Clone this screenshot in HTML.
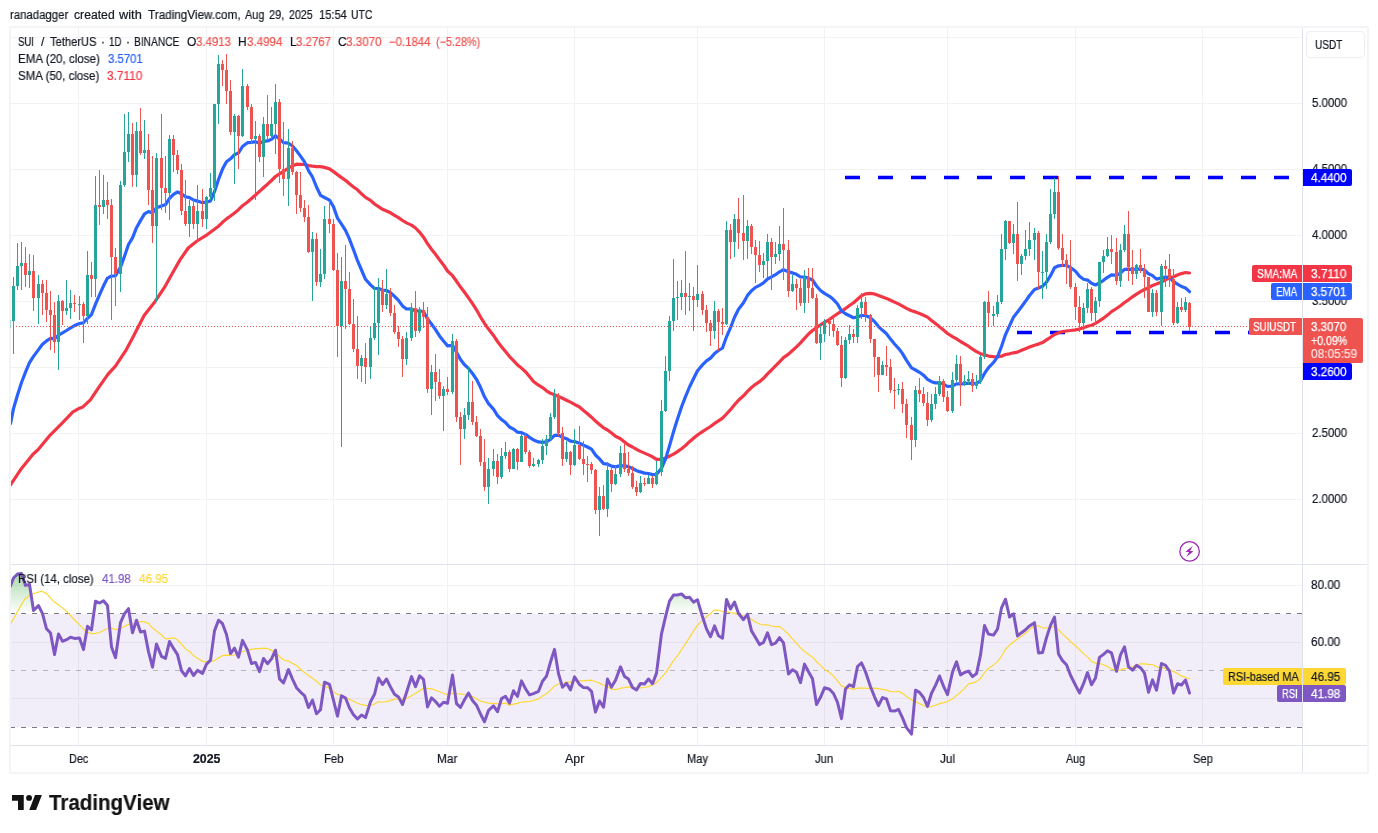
<!DOCTYPE html><html><head><meta charset="utf-8"><title>SUIUSDT chart</title><style>
html,body{margin:0;padding:0;background:#fff}
body{width:1378px;height:833px;position:relative;overflow:hidden;font-family:"Liberation Sans",sans-serif}
.t{position:absolute;white-space:pre;line-height:1;font-family:"Liberation Sans",sans-serif;will-change:transform;-webkit-text-stroke-width:0.2px}

</style></head><body>
<svg width="1378" height="833" viewBox="0 0 1378 833" style="position:absolute;left:0;top:0" shape-rendering="auto">
<path d="M78.5 28V564M78.5 565V745M206.5 28V564M206.5 565V745M333.5 28V564M333.5 565V745M447.5 28V564M447.5 565V745M574.5 28V564M574.5 565V745M697.5 28V564M697.5 565V745M824.5 28V564M824.5 565V745M947.5 28V564M947.5 565V745M1075.5 28V564M1075.5 565V745M1202.5 28V564M1202.5 565V745M11 37.5H1302M11 103.5H1302M11 169.5H1302M11 235.5H1302M11 301.5H1302M11 367.5H1302M11 433.5H1302M11 499.5H1302M11 585.5H1302M11 642.5H1302M11 698.5H1302" stroke="#000" stroke-opacity="0.05" stroke-width="1" fill="none" shape-rendering="crispEdges"/>
<rect x="11" y="614" width="1291" height="113" fill="#7e57c2" fill-opacity="0.1"/>
<path d="M10 613.5H1302M10 727.5H1302" stroke="#787b86" stroke-width="1" stroke-dasharray="5 6" fill="none" shape-rendering="crispEdges"/>
<path d="M10 670.5H1302" stroke="#787b86" stroke-opacity="0.5" stroke-width="1" stroke-dasharray="5 6" fill="none" shape-rendering="crispEdges"/>
<defs><linearGradient id="gob" gradientUnits="userSpaceOnUse" x1="0" y1="528.2" x2="0" y2="613.5"><stop offset="0" stop-color="#4caf50" stop-opacity="1"/><stop offset="1" stop-color="#4caf50" stop-opacity="0"/></linearGradient><linearGradient id="gos" gradientUnits="userSpaceOnUse" x1="0" y1="727.5" x2="0" y2="812.8"><stop offset="0" stop-color="#ff5252" stop-opacity="0"/><stop offset="1" stop-color="#ff5252" stop-opacity="1"/></linearGradient><clipPath id="cob"><rect x="11" y="565" width="1291" height="48.5"/></clipPath><clipPath id="cos"><rect x="11" y="727.5" width="1291" height="18"/></clipPath></defs>
<polygon clip-path="url(#cob)" fill="url(#gob)" points="10.5,613.5 10.5,585.9 13.5,578.0 17.5,574.1 21.5,573.5 25.5,585.4 29.5,584.4 33.5,610.5 38.5,605.6 42.5,613.7 46.5,628.8 50.5,633.1 54.5,654.6 58.5,634.0 62.5,641.3 66.5,639.7 70.5,637.3 74.5,638.4 79.5,637.9 83.5,649.6 87.5,626.3 91.5,629.8 95.5,601.2 99.5,603.0 103.5,600.7 107.5,605.5 111.5,646.9 115.5,657.7 120.5,622.7 124.5,613.6 128.5,608.7 132.5,632.8 136.5,620.2 140.5,632.0 144.5,631.1 148.5,651.6 152.5,667.2 156.5,644.1 161.5,656.4 165.5,658.4 169.5,641.5 173.5,648.4 177.5,654.6 181.5,670.7 185.5,675.8 189.5,668.6 193.5,675.5 197.5,670.3 202.5,673.5 206.5,664.1 210.5,660.1 214.5,630.9 218.5,620.2 222.5,623.7 226.5,634.5 230.5,653.5 234.5,648.1 238.5,657.2 242.5,640.4 247.5,650.1 251.5,663.5 255.5,662.4 259.5,671.6 263.5,658.5 267.5,663.7 271.5,658.9 275.5,650.2 279.5,678.9 283.5,682.9 288.5,669.6 292.5,679.2 296.5,687.7 300.5,692.1 304.5,695.6 308.5,707.5 312.5,700.1 316.5,713.8 320.5,709.7 324.5,682.2 329.5,684.3 333.5,700.4 337.5,716.2 341.5,695.8 345.5,698.0 349.5,708.0 353.5,714.8 357.5,719.0 361.5,715.0 365.5,717.6 370.5,701.8 374.5,694.3 378.5,678.0 382.5,684.5 386.5,679.0 390.5,687.0 394.5,694.2 398.5,696.9 402.5,704.5 406.5,692.6 411.5,676.6 415.5,686.7 419.5,675.9 423.5,679.4 427.5,707.0 431.5,697.8 435.5,701.5 439.5,706.2 443.5,702.3 447.5,703.3 452.5,674.9 456.5,703.6 460.5,707.4 464.5,699.7 468.5,693.0 472.5,700.5 476.5,705.2 480.5,714.0 484.5,721.8 488.5,710.4 493.5,705.9 497.5,711.7 501.5,698.6 505.5,696.3 509.5,703.1 513.5,690.8 517.5,696.4 521.5,680.9 525.5,688.7 529.5,694.9 533.5,693.6 538.5,691.3 542.5,681.2 546.5,676.1 550.5,662.0 554.5,649.4 558.5,673.7 562.5,687.3 566.5,683.3 570.5,689.9 574.5,676.9 579.5,684.5 583.5,687.6 587.5,687.7 591.5,691.3 595.5,712.1 599.5,701.0 603.5,707.2 607.5,679.1 611.5,687.1 615.5,680.2 620.5,666.9 624.5,676.4 628.5,679.1 632.5,687.5 636.5,690.0 640.5,683.4 644.5,684.0 648.5,679.0 652.5,683.7 656.5,673.1 661.5,633.8 665.5,616.8 669.5,601.1 673.5,595.1 677.5,595.0 681.5,593.9 685.5,597.8 689.5,597.2 693.5,602.1 697.5,599.8 702.5,616.8 706.5,628.9 710.5,636.7 714.5,625.9 718.5,635.8 722.5,638.2 726.5,599.4 730.5,609.0 734.5,602.0 738.5,613.5 743.5,619.7 747.5,614.2 751.5,630.9 755.5,637.5 759.5,644.6 763.5,642.4 767.5,632.8 771.5,644.7 775.5,643.1 779.5,637.7 783.5,642.9 788.5,674.0 792.5,669.8 796.5,672.2 800.5,682.7 804.5,664.1 808.5,671.7 812.5,678.7 816.5,704.5 820.5,697.3 824.5,687.8 829.5,689.3 833.5,693.5 837.5,702.3 841.5,718.6 845.5,689.0 849.5,684.8 853.5,686.6 857.5,666.5 861.5,662.9 865.5,671.8 870.5,686.8 874.5,696.8 878.5,705.6 882.5,697.6 886.5,699.0 890.5,710.8 894.5,711.1 898.5,709.4 902.5,717.9 906.5,727.7 911.5,734.1 915.5,690.2 919.5,692.3 923.5,697.5 927.5,706.5 931.5,693.2 935.5,685.4 939.5,676.0 943.5,686.1 947.5,694.6 952.5,672.1 956.5,661.8 960.5,674.9 964.5,672.5 968.5,671.1 972.5,676.6 976.5,673.6 980.5,655.1 984.5,625.6 988.5,634.1 993.5,635.1 997.5,629.2 1001.5,607.8 1005.5,599.2 1009.5,617.0 1013.5,613.8 1017.5,635.9 1021.5,632.7 1025.5,629.8 1029.5,625.9 1034.5,622.7 1038.5,652.9 1042.5,652.5 1046.5,637.6 1050.5,625.4 1054.5,617.1 1058.5,654.0 1062.5,660.6 1066.5,664.8 1070.5,675.3 1075.5,685.2 1079.5,692.9 1083.5,683.7 1087.5,672.6 1091.5,684.8 1095.5,677.9 1099.5,657.4 1103.5,654.4 1107.5,650.8 1111.5,652.8 1116.5,671.3 1120.5,654.8 1124.5,646.8 1128.5,666.8 1132.5,670.2 1136.5,665.4 1140.5,667.7 1144.5,673.1 1148.5,692.2 1152.5,679.9 1156.5,690.2 1161.5,663.5 1165.5,665.3 1169.5,671.0 1173.5,693.1 1177.5,683.8 1181.5,685.0 1185.5,680.0 1189.5,693.1 1189.5,613.5"/>
<polygon clip-path="url(#cos)" fill="url(#gos)" points="10.5,727.5 10.5,585.9 13.5,578.0 17.5,574.1 21.5,573.5 25.5,585.4 29.5,584.4 33.5,610.5 38.5,605.6 42.5,613.7 46.5,628.8 50.5,633.1 54.5,654.6 58.5,634.0 62.5,641.3 66.5,639.7 70.5,637.3 74.5,638.4 79.5,637.9 83.5,649.6 87.5,626.3 91.5,629.8 95.5,601.2 99.5,603.0 103.5,600.7 107.5,605.5 111.5,646.9 115.5,657.7 120.5,622.7 124.5,613.6 128.5,608.7 132.5,632.8 136.5,620.2 140.5,632.0 144.5,631.1 148.5,651.6 152.5,667.2 156.5,644.1 161.5,656.4 165.5,658.4 169.5,641.5 173.5,648.4 177.5,654.6 181.5,670.7 185.5,675.8 189.5,668.6 193.5,675.5 197.5,670.3 202.5,673.5 206.5,664.1 210.5,660.1 214.5,630.9 218.5,620.2 222.5,623.7 226.5,634.5 230.5,653.5 234.5,648.1 238.5,657.2 242.5,640.4 247.5,650.1 251.5,663.5 255.5,662.4 259.5,671.6 263.5,658.5 267.5,663.7 271.5,658.9 275.5,650.2 279.5,678.9 283.5,682.9 288.5,669.6 292.5,679.2 296.5,687.7 300.5,692.1 304.5,695.6 308.5,707.5 312.5,700.1 316.5,713.8 320.5,709.7 324.5,682.2 329.5,684.3 333.5,700.4 337.5,716.2 341.5,695.8 345.5,698.0 349.5,708.0 353.5,714.8 357.5,719.0 361.5,715.0 365.5,717.6 370.5,701.8 374.5,694.3 378.5,678.0 382.5,684.5 386.5,679.0 390.5,687.0 394.5,694.2 398.5,696.9 402.5,704.5 406.5,692.6 411.5,676.6 415.5,686.7 419.5,675.9 423.5,679.4 427.5,707.0 431.5,697.8 435.5,701.5 439.5,706.2 443.5,702.3 447.5,703.3 452.5,674.9 456.5,703.6 460.5,707.4 464.5,699.7 468.5,693.0 472.5,700.5 476.5,705.2 480.5,714.0 484.5,721.8 488.5,710.4 493.5,705.9 497.5,711.7 501.5,698.6 505.5,696.3 509.5,703.1 513.5,690.8 517.5,696.4 521.5,680.9 525.5,688.7 529.5,694.9 533.5,693.6 538.5,691.3 542.5,681.2 546.5,676.1 550.5,662.0 554.5,649.4 558.5,673.7 562.5,687.3 566.5,683.3 570.5,689.9 574.5,676.9 579.5,684.5 583.5,687.6 587.5,687.7 591.5,691.3 595.5,712.1 599.5,701.0 603.5,707.2 607.5,679.1 611.5,687.1 615.5,680.2 620.5,666.9 624.5,676.4 628.5,679.1 632.5,687.5 636.5,690.0 640.5,683.4 644.5,684.0 648.5,679.0 652.5,683.7 656.5,673.1 661.5,633.8 665.5,616.8 669.5,601.1 673.5,595.1 677.5,595.0 681.5,593.9 685.5,597.8 689.5,597.2 693.5,602.1 697.5,599.8 702.5,616.8 706.5,628.9 710.5,636.7 714.5,625.9 718.5,635.8 722.5,638.2 726.5,599.4 730.5,609.0 734.5,602.0 738.5,613.5 743.5,619.7 747.5,614.2 751.5,630.9 755.5,637.5 759.5,644.6 763.5,642.4 767.5,632.8 771.5,644.7 775.5,643.1 779.5,637.7 783.5,642.9 788.5,674.0 792.5,669.8 796.5,672.2 800.5,682.7 804.5,664.1 808.5,671.7 812.5,678.7 816.5,704.5 820.5,697.3 824.5,687.8 829.5,689.3 833.5,693.5 837.5,702.3 841.5,718.6 845.5,689.0 849.5,684.8 853.5,686.6 857.5,666.5 861.5,662.9 865.5,671.8 870.5,686.8 874.5,696.8 878.5,705.6 882.5,697.6 886.5,699.0 890.5,710.8 894.5,711.1 898.5,709.4 902.5,717.9 906.5,727.7 911.5,734.1 915.5,690.2 919.5,692.3 923.5,697.5 927.5,706.5 931.5,693.2 935.5,685.4 939.5,676.0 943.5,686.1 947.5,694.6 952.5,672.1 956.5,661.8 960.5,674.9 964.5,672.5 968.5,671.1 972.5,676.6 976.5,673.6 980.5,655.1 984.5,625.6 988.5,634.1 993.5,635.1 997.5,629.2 1001.5,607.8 1005.5,599.2 1009.5,617.0 1013.5,613.8 1017.5,635.9 1021.5,632.7 1025.5,629.8 1029.5,625.9 1034.5,622.7 1038.5,652.9 1042.5,652.5 1046.5,637.6 1050.5,625.4 1054.5,617.1 1058.5,654.0 1062.5,660.6 1066.5,664.8 1070.5,675.3 1075.5,685.2 1079.5,692.9 1083.5,683.7 1087.5,672.6 1091.5,684.8 1095.5,677.9 1099.5,657.4 1103.5,654.4 1107.5,650.8 1111.5,652.8 1116.5,671.3 1120.5,654.8 1124.5,646.8 1128.5,666.8 1132.5,670.2 1136.5,665.4 1140.5,667.7 1144.5,673.1 1148.5,692.2 1152.5,679.9 1156.5,690.2 1161.5,663.5 1165.5,665.3 1169.5,671.0 1173.5,693.1 1177.5,683.8 1181.5,685.0 1185.5,680.0 1189.5,693.1 1189.5,727.5"/>
<path d="M845 177.5H1302" stroke="#0000ff" stroke-width="3.6" stroke-dasharray="15 18" fill="none"/>
<path d="M1017 332.5H1302" stroke="#0000ff" stroke-width="3.6" stroke-dasharray="15 18" fill="none"/>
<g clip-path="url(#cpm)">
<polyline points="10.5,484.8 20.5,469.8 33.0,454.3 38.0,449.8 50.4,434.8 62.9,422.3 72.9,411.9 78.7,408.6 82.9,406.9 90.4,399.9 97.9,388.6 107.9,374.4 115.4,366.2 125.4,351.2 132.8,337.5 144.1,315.5 155.3,301.2 165.3,286.1 172.8,272.4 180.0,259.9 188.2,248.0 197.0,241.0 207.0,234.8 218.5,226.2 222.5,222.3 226.5,218.9 230.5,216.0 234.5,212.9 238.5,209.7 242.5,205.7 247.5,202.0 251.5,198.5 255.5,195.0 259.5,191.3 263.5,187.7 267.5,184.2 271.5,180.5 275.5,176.5 279.5,173.8 283.5,171.3 288.5,168.0 292.5,165.9 296.5,164.2 300.5,164.3 304.5,164.5 308.5,165.6 312.5,166.2 316.5,166.7 320.5,166.7 324.5,167.4 329.5,168.9 333.5,171.6 337.5,174.6 341.5,177.6 345.5,180.3 349.5,183.8 353.5,187.0 357.5,189.8 361.5,193.8 365.5,197.4 370.5,200.3 374.5,204.0 378.5,206.6 382.5,209.3 386.5,211.0 390.5,212.8 394.5,215.3 398.5,217.6 402.5,220.5 406.5,222.9 411.5,225.1 415.5,228.0 419.5,232.1 423.5,237.2 427.5,243.6 431.5,249.2 435.5,254.2 439.5,259.8 443.5,264.9 447.5,271.0 452.5,275.7 456.5,281.3 460.5,287.1 464.5,292.3 468.5,297.8 472.5,303.6 476.5,309.8 480.5,317.0 484.5,323.4 488.5,329.1 493.5,335.4 497.5,341.5 501.5,346.7 505.5,351.6 509.5,356.6 513.5,360.6 517.5,365.0 521.5,368.1 525.5,371.7 529.5,376.6 533.5,381.4 538.5,385.2 542.5,387.6 546.5,390.8 550.5,393.3 554.5,394.8 558.5,396.4 562.5,398.3 566.5,400.2 570.5,402.1 574.5,404.3 579.5,407.0 583.5,410.5 587.5,413.7 591.5,417.2 595.5,421.1 599.5,424.4 603.5,427.8 607.5,430.0 611.5,433.0 615.5,436.3 620.5,438.7 624.5,441.9 628.5,445.0 632.5,447.0 636.5,449.4 640.5,451.4 644.5,453.1 648.5,454.9 652.5,456.8 656.5,459.4 661.5,459.3 665.5,458.1 669.5,456.2 673.5,454.1 677.5,451.6 681.5,448.8 685.5,445.5 689.5,441.7 693.5,438.3 697.5,435.0 702.5,431.6 706.5,429.0 710.5,426.5 714.5,423.4 718.5,420.8 722.5,418.1 726.5,414.0 730.5,409.7 734.5,404.8 738.5,400.2 743.5,395.8 747.5,391.4 751.5,387.5 755.5,384.3 759.5,381.7 763.5,378.3 767.5,373.9 771.5,370.0 775.5,365.8 779.5,361.8 783.5,357.6 788.5,354.1 792.5,350.5 796.5,346.9 800.5,342.8 804.5,338.4 808.5,334.0 812.5,330.5 816.5,327.7 820.5,324.9 824.5,322.3 829.5,319.4 833.5,316.5 837.5,313.7 841.5,311.4 845.5,308.5 849.5,305.5 853.5,302.7 857.5,299.2 861.5,295.8 865.5,293.9 870.5,293.3 874.5,294.0 878.5,295.5 882.5,296.9 886.5,298.4 890.5,300.2 894.5,302.1 898.5,303.9 902.5,306.1 906.5,308.4 911.5,310.7 915.5,311.9 919.5,313.5 923.5,315.2 927.5,317.1 931.5,320.5 935.5,323.6 939.5,326.8 943.5,330.1 947.5,333.5 952.5,336.6 956.5,338.9 960.5,341.5 964.5,343.8 968.5,346.2 972.5,349.1 976.5,351.6 980.5,353.7 984.5,354.8 988.5,356.1 993.5,356.6 997.5,356.9 1001.5,356.2 1005.5,354.5 1009.5,353.8 1013.5,352.8 1017.5,352.1 1021.5,350.3 1025.5,348.7 1029.5,347.0 1034.5,345.2 1038.5,344.1 1042.5,342.6 1046.5,339.9 1050.5,337.3 1054.5,334.5 1058.5,332.7 1062.5,331.7 1066.5,331.0 1070.5,330.5 1075.5,329.8 1079.5,329.1 1083.5,327.8 1087.5,326.3 1091.5,325.2 1095.5,323.4 1099.5,320.9 1103.5,318.2 1107.5,315.1 1111.5,311.6 1116.5,308.5 1120.5,305.7 1124.5,302.5 1128.5,299.8 1132.5,296.8 1136.5,294.1 1140.5,291.6 1144.5,289.5 1148.5,287.8 1152.5,285.4 1156.5,284.1 1161.5,282.1 1165.5,279.8 1169.5,277.8 1173.5,276.7 1177.5,275.1 1181.5,273.6 1185.5,272.5 1189.5,273.0" fill="none" stroke="#f23645" stroke-width="3.2" stroke-linejoin="round" stroke-linecap="round"/>
<polyline points="10.5,423.6 13.5,408.6 17.5,395.0 21.5,382.5 25.5,372.2 29.5,362.6 33.5,356.4 38.5,349.6 42.5,344.2 46.5,340.9 50.5,338.4 54.5,338.7 58.5,335.2 62.5,332.9 66.5,330.5 70.5,327.9 74.5,325.6 79.5,323.5 83.5,322.8 87.5,318.3 91.5,314.5 95.5,304.1 99.5,294.8 103.5,285.8 107.5,278.1 111.5,276.0 115.5,275.8 120.5,267.1 124.5,256.2 128.5,244.5 132.5,237.9 136.5,227.7 140.5,220.6 144.5,213.9 148.5,211.6 152.5,213.0 156.5,207.8 161.5,205.9 165.5,204.6 169.5,198.4 173.5,194.3 177.5,192.0 181.5,193.8 185.5,196.7 189.5,197.6 193.5,200.0 197.5,201.1 202.5,202.7 206.5,202.2 210.5,200.9 214.5,191.7 218.5,179.5 222.5,169.1 226.5,161.7 230.5,158.8 234.5,154.7 238.5,152.9 242.5,146.5 247.5,142.7 251.5,142.3 255.5,141.7 259.5,143.2 263.5,141.4 267.5,140.9 271.5,139.3 275.5,135.7 279.5,138.9 283.5,142.7 288.5,143.2 292.5,146.0 296.5,150.7 300.5,156.1 304.5,161.9 308.5,170.6 312.5,177.0 316.5,187.0 320.5,195.3 324.5,197.5 329.5,200.1 333.5,206.8 337.5,218.1 341.5,224.1 345.5,230.3 349.5,239.2 353.5,249.7 357.5,260.7 361.5,270.0 365.5,279.3 370.5,284.9 374.5,288.5 378.5,288.5 382.5,290.1 386.5,290.5 390.5,292.6 394.5,296.3 398.5,300.4 402.5,305.9 406.5,309.0 411.5,308.9 415.5,311.0 419.5,310.9 423.5,311.5 427.5,318.9 431.5,324.0 435.5,329.6 439.5,335.9 443.5,340.9 447.5,345.8 452.5,345.3 456.5,352.2 460.5,359.5 464.5,364.8 468.5,368.4 472.5,373.5 476.5,379.4 480.5,387.3 484.5,396.8 488.5,403.6 493.5,409.1 497.5,415.6 501.5,419.5 505.5,422.6 509.5,427.0 513.5,429.1 517.5,432.2 521.5,432.6 525.5,434.4 529.5,437.4 533.5,439.9 538.5,441.9 542.5,442.3 546.5,441.9 550.5,439.5 554.5,435.3 558.5,435.1 562.5,437.3 566.5,438.7 570.5,441.2 574.5,441.6 579.5,443.2 583.5,445.2 587.5,447.0 591.5,449.2 595.5,455.0 599.5,458.9 603.5,463.6 607.5,464.2 611.5,466.1 615.5,466.9 620.5,465.6 624.5,465.9 628.5,466.6 632.5,468.5 636.5,470.7 640.5,471.9 644.5,473.1 648.5,473.5 652.5,474.6 656.5,474.4 661.5,468.3 665.5,459.1 669.5,445.9 673.5,431.8 677.5,419.0 681.5,407.0 685.5,396.6 689.5,387.0 693.5,378.7 697.5,370.7 702.5,364.9 706.5,360.9 710.5,358.1 714.5,353.6 718.5,350.5 722.5,348.0 726.5,336.8 730.5,327.7 734.5,317.3 738.5,309.3 743.5,302.8 747.5,295.4 751.5,290.8 755.5,287.4 759.5,285.3 763.5,282.9 767.5,279.0 771.5,276.9 775.5,274.7 779.5,271.8 783.5,269.7 788.5,271.7 792.5,272.9 796.5,274.3 800.5,277.0 804.5,277.1 808.5,278.1 812.5,280.0 816.5,286.0 820.5,290.5 824.5,293.4 829.5,296.3 833.5,299.6 837.5,304.0 841.5,311.0 845.5,313.8 849.5,315.8 853.5,317.8 857.5,316.9 861.5,315.5 865.5,315.5 870.5,317.8 874.5,321.6 878.5,326.6 882.5,330.3 886.5,333.8 890.5,339.1 894.5,344.0 898.5,348.3 902.5,353.6 906.5,360.4 911.5,367.9 915.5,370.0 919.5,372.3 923.5,375.2 927.5,379.4 931.5,381.7 935.5,382.9 939.5,382.7 943.5,384.0 947.5,386.5 952.5,386.0 956.5,383.9 960.5,383.9 964.5,383.6 968.5,383.1 972.5,383.4 976.5,383.3 980.5,380.8 984.5,373.4 988.5,367.6 993.5,362.5 997.5,356.8 1001.5,346.5 1005.5,334.6 1009.5,325.9 1013.5,317.2 1017.5,312.1 1021.5,306.7 1025.5,301.3 1029.5,295.5 1034.5,289.5 1038.5,287.9 1042.5,286.3 1046.5,282.2 1050.5,275.7 1054.5,267.7 1058.5,265.8 1062.5,265.3 1066.5,265.5 1070.5,267.5 1075.5,271.2 1079.5,276.2 1083.5,279.2 1087.5,280.1 1091.5,283.3 1095.5,285.0 1099.5,282.8 1103.5,280.3 1107.5,277.3 1111.5,274.8 1116.5,275.4 1120.5,273.0 1124.5,269.3 1128.5,269.1 1132.5,269.5 1136.5,269.1 1140.5,269.1 1144.5,269.8 1148.5,273.8 1152.5,275.6 1156.5,279.1 1161.5,277.9 1165.5,277.1 1169.5,277.3 1173.5,281.6 1177.5,284.1 1181.5,286.5 1185.5,288.0 1189.5,291.7" fill="none" stroke="#2962ff" stroke-width="3.2" stroke-linejoin="round" stroke-linecap="round"/>
<path d="M13.5 277V354M17.5 243V290M21.5 242V290M29.5 254V288M38.5 275V324M58.5 295V370M66.5 280V315M70.5 290V319M79.5 296V320M87.5 251V324M95.5 176V297M103.5 175V214M120.5 181V292M124.5 114V187M128.5 112V162M136.5 122V187M144.5 120V159M156.5 153V302M169.5 135V220M189.5 200V237M197.5 185V242M206.5 196V229M210.5 173V200M214.5 104V201M218.5 55V124M234.5 114V184M242.5 69V137M255.5 121V200M263.5 117V177M271.5 107V139M275.5 84V154M288.5 129V206M312.5 232V301M320.5 249V287M324.5 206V279M341.5 257V447M361.5 355V382M370.5 327V379M374.5 287V340M378.5 278V355M386.5 269V309M406.5 332V365M411.5 303V341M419.5 307V333M431.5 365V415M443.5 386V431M452.5 334V394M464.5 408V439M468.5 367V420M488.5 458V504M493.5 449V476M501.5 448V479M505.5 442V459M513.5 448V469M521.5 434V462M533.5 458V467M538.5 459V467M542.5 439V464M546.5 435V455M550.5 413V440M554.5 389V419M566.5 441V462M574.5 429V466M599.5 487V536M607.5 462V517M615.5 466V485M620.5 446V477M640.5 476V493M648.5 475V484M656.5 461V485M661.5 400V476M665.5 356V412M669.5 316V381M673.5 259V331M677.5 281V320M681.5 280V310M689.5 283V311M697.5 265V307M714.5 301V339M726.5 221V325M734.5 214V257M747.5 220V259M763.5 253V278M767.5 234V277M775.5 242V264M779.5 226V261M792.5 275V292M804.5 270V313M820.5 324V360M824.5 319V342M845.5 337V379M849.5 325V344M857.5 305V343M861.5 293V319M882.5 361V375M898.5 384V395M915.5 386V447M931.5 394V422M935.5 387V409M939.5 376V396M952.5 372V413M956.5 355V382M964.5 375V386M968.5 371V385M976.5 375V389M980.5 355V384M984.5 301V359M993.5 306V326M997.5 295V317M1001.5 234V304M1005.5 220V260M1013.5 224V254M1021.5 254V275M1025.5 230V260M1029.5 222V256M1034.5 228V260M1042.5 251V299M1046.5 234V289M1050.5 189V244M1054.5 178V219M1083.5 303V330M1087.5 283V313M1095.5 297V324M1099.5 262V307M1103.5 250V273M1107.5 237V257M1120.5 244V287M1124.5 225V252M1136.5 264V279M1152.5 289V317M1161.5 264V326M1177.5 302V324M1185.5 297V312" stroke="#26a69a" stroke-width="1" fill="none"/>
<path d="M25.5 247V287M33.5 255V311M42.5 280V315M46.5 280V322M50.5 291V350M54.5 302V353M62.5 300V325M74.5 295V312M83.5 302V343M91.5 262V297M99.5 170V225M107.5 182V219M111.5 199V320M115.5 248V306M132.5 123V187M140.5 108V155M148.5 134V205M152.5 156V243M161.5 114V210M165.5 156V213M173.5 135V172M177.5 150V174M181.5 164V215M185.5 180V226M193.5 199V229M202.5 189V227M222.5 60V86M226.5 54V104M230.5 80V135M238.5 115V169M247.5 84V110M251.5 104V144M259.5 134V162M267.5 95V140M279.5 99V183M283.5 122V196M292.5 141V175M296.5 171V214M300.5 172V212M304.5 200V222M308.5 205V253M316.5 233V286M329.5 201V233M333.5 219V271M337.5 253V357M345.5 245V329M349.5 272V325M353.5 299V352M357.5 316V379M365.5 343V384M382.5 280V312M390.5 288V316M394.5 305V334M398.5 326V347M402.5 336V377M415.5 291V337M423.5 302V328M427.5 307V393M435.5 354V401M439.5 369V399M447.5 377V395M456.5 339V422M460.5 412V465M472.5 381V425M476.5 416V437M480.5 429V466M484.5 439V491M497.5 454V484M509.5 450V472M517.5 448V470M525.5 433V454M529.5 450V468M558.5 393V436M562.5 427V466M570.5 451V475M579.5 426V460M583.5 441V475M587.5 456V482M591.5 462V474M595.5 469V514M603.5 485V510M611.5 467V492M624.5 444V472M628.5 452V476M632.5 466V489M636.5 481V496M644.5 478V486M652.5 476V488M685.5 251V315M693.5 287V331M702.5 291V315M706.5 305V332M710.5 320V346M718.5 309V351M722.5 308V335M730.5 224V259M738.5 198V249M743.5 195V260M751.5 224V254M755.5 240V283M759.5 241V272M771.5 238V290M783.5 208V280M788.5 240V297M796.5 279V310M800.5 279V306M808.5 268V303M812.5 268V299M816.5 294V344M829.5 318V336M833.5 317V337M837.5 328V346M841.5 336V387M853.5 329V343M865.5 297V322M870.5 314V343M874.5 339V377M878.5 357V392M886.5 346V376M890.5 359V393M894.5 378V409M902.5 382V413M906.5 399V438M911.5 417V460M919.5 378V402M923.5 387V406M927.5 392V426M943.5 379V402M947.5 391V412M960.5 356V406M972.5 373V392M988.5 291V326M1009.5 221V244M1017.5 202V281M1038.5 231V289M1058.5 176V250M1062.5 234V267M1066.5 254V284M1070.5 240V289M1075.5 283V320M1079.5 296V332M1091.5 287V321M1111.5 235V264M1116.5 238V285M1128.5 211V281M1132.5 250V285M1140.5 249V273M1144.5 264V298M1148.5 277V312M1156.5 290V316M1165.5 260V287M1169.5 254V287M1173.5 269V325M1181.5 298V312M1189.5 302V331" stroke="#ef5350" stroke-width="1" fill="none"/>
<path d="M12 286h3v35h-3zM16 266h3v20h-3zM20 263h3v3h-3zM28 271h3v4h-3zM37 284h3v14h-3zM57 301h3v41h-3zM65 308h3v3h-3zM69 303h3v5h-3zM78 304h3v1h-3zM86 275h3v41h-3zM94 205h3v74h-3zM102 200h3v7h-3zM119 185h3v89h-3zM123 152h3v33h-3zM127 134h3v18h-3zM135 131h3v44h-3zM143 150h3v3h-3zM155 158h3v68h-3zM168 139h3v54h-3zM188 206h3v18h-3zM196 211h3v13h-3zM205 197h3v22h-3zM209 188h3v9h-3zM213 104h3v84h-3zM217 64h3v40h-3zM233 116h3v16h-3zM241 86h3v50h-3zM254 136h3v3h-3zM262 124h3v33h-3zM270 124h3v12h-3zM274 102h3v22h-3zM287 148h3v31h-3zM311 239h3v13h-3zM319 274h3v8h-3zM323 219h3v55h-3zM340 281h3v45h-3zM360 358h3v8h-3zM369 338h3v29h-3zM373 323h3v15h-3zM377 289h3v34h-3zM385 294h3v11h-3zM405 338h3v21h-3zM410 308h3v30h-3zM418 310h3v21h-3zM430 372h3v17h-3zM442 389h3v7h-3zM451 341h3v51h-3zM463 415h3v14h-3zM467 402h3v13h-3zM487 469h3v18h-3zM492 461h3v8h-3zM500 456h3v21h-3zM504 452h3v4h-3zM512 449h3v20h-3zM520 436h3v26h-3zM532 464h3v2h-3zM537 460h3v4h-3zM541 446h3v14h-3zM545 439h3v7h-3zM549 417h3v22h-3zM553 395h3v22h-3zM565 452h3v7h-3zM573 445h3v20h-3zM598 496h3v14h-3zM606 470h3v39h-3zM614 474h3v10h-3zM619 453h3v21h-3zM639 483h3v9h-3zM647 478h3v6h-3zM655 472h3v12h-3zM660 411h3v61h-3zM664 371h3v40h-3zM668 321h3v50h-3zM672 298h3v23h-3zM676 297h3v1h-3zM680 293h3v4h-3zM688 296h3v1h-3zM696 294h3v6h-3zM713 311h3v20h-3zM725 230h3v94h-3zM733 219h3v23h-3zM746 226h3v15h-3zM762 261h3v4h-3zM766 242h3v19h-3zM774 254h3v3h-3zM778 244h3v10h-3zM791 284h3v7h-3zM803 277h3v26h-3zM819 334h3v9h-3zM823 321h3v13h-3zM844 340h3v38h-3zM848 334h3v6h-3zM856 308h3v29h-3zM860 302h3v6h-3zM881 365h3v10h-3zM897 389h3v1h-3zM914 390h3v50h-3zM930 404h3v16h-3zM934 394h3v10h-3zM938 381h3v13h-3zM951 380h3v31h-3zM955 364h3v16h-3zM963 381h3v3h-3zM967 379h3v2h-3zM975 382h3v4h-3zM979 357h3v25h-3zM983 302h3v55h-3zM992 314h3v2h-3zM996 302h3v12h-3zM1000 249h3v53h-3zM1004 221h3v28h-3zM1012 234h3v9h-3zM1020 256h3v8h-3zM1024 249h3v7h-3zM1028 240h3v9h-3zM1033 233h3v7h-3zM1041 272h3v1h-3zM1045 242h3v30h-3zM1049 214h3v28h-3zM1053 192h3v22h-3zM1082 308h3v15h-3zM1086 289h3v19h-3zM1094 301h3v12h-3zM1098 262h3v39h-3zM1102 256h3v6h-3zM1106 249h3v7h-3zM1119 250h3v31h-3zM1123 234h3v16h-3zM1135 265h3v9h-3zM1151 293h3v19h-3zM1160 266h3v46h-3zM1176 307h3v16h-3zM1184 302h3v8h-3z" fill="#26a69a"/>
<path d="M24 263h3v12h-3zM32 271h3v27h-3zM41 284h3v9h-3zM45 293h3v17h-3zM49 310h3v5h-3zM53 315h3v27h-3zM61 301h3v10h-3zM73 303h3v1h-3zM82 304h3v12h-3zM90 275h3v4h-3zM98 205h3v2h-3zM106 200h3v5h-3zM110 205h3v52h-3zM114 257h3v17h-3zM131 134h3v41h-3zM139 131h3v22h-3zM147 150h3v40h-3zM151 190h3v36h-3zM160 158h3v30h-3zM164 188h3v5h-3zM172 139h3v16h-3zM176 155h3v15h-3zM180 170h3v41h-3zM184 211h3v13h-3zM192 206h3v18h-3zM201 211h3v8h-3zM221 64h3v6h-3zM225 70h3v21h-3zM229 91h3v41h-3zM237 116h3v20h-3zM246 86h3v21h-3zM250 107h3v32h-3zM258 136h3v21h-3zM266 124h3v12h-3zM278 102h3v67h-3zM282 169h3v10h-3zM291 148h3v24h-3zM295 172h3v23h-3zM299 195h3v13h-3zM303 208h3v9h-3zM307 217h3v35h-3zM315 239h3v43h-3zM328 219h3v5h-3zM332 224h3v46h-3zM336 270h3v56h-3zM344 281h3v8h-3zM348 289h3v35h-3zM352 324h3v25h-3zM356 349h3v17h-3zM364 358h3v9h-3zM381 289h3v16h-3zM389 294h3v19h-3zM393 313h3v19h-3zM397 332h3v7h-3zM401 339h3v20h-3zM414 308h3v23h-3zM422 310h3v7h-3zM426 317h3v72h-3zM434 372h3v10h-3zM438 382h3v14h-3zM446 389h3v3h-3zM455 341h3v76h-3zM459 417h3v12h-3zM471 402h3v20h-3zM475 422h3v14h-3zM479 436h3v26h-3zM483 462h3v25h-3zM496 461h3v16h-3zM508 452h3v17h-3zM516 449h3v13h-3zM524 436h3v16h-3zM528 452h3v14h-3zM557 395h3v38h-3zM561 433h3v26h-3zM569 452h3v13h-3zM578 445h3v14h-3zM582 459h3v5h-3zM586 464h3v1h-3zM590 464h3v6h-3zM594 470h3v40h-3zM602 496h3v13h-3zM610 470h3v14h-3zM623 453h3v16h-3zM627 469h3v4h-3zM631 473h3v14h-3zM635 487h3v5h-3zM643 483h3v1h-3zM651 478h3v6h-3zM684 293h3v4h-3zM692 296h3v4h-3zM701 294h3v16h-3zM705 310h3v13h-3zM709 323h3v8h-3zM717 311h3v11h-3zM721 322h3v2h-3zM729 230h3v12h-3zM737 219h3v14h-3zM742 233h3v8h-3zM750 226h3v21h-3zM754 247h3v8h-3zM758 255h3v10h-3zM770 242h3v15h-3zM782 244h3v6h-3zM787 250h3v41h-3zM795 284h3v4h-3zM799 288h3v15h-3zM807 277h3v11h-3zM811 288h3v10h-3zM815 298h3v45h-3zM828 321h3v3h-3zM832 324h3v7h-3zM836 331h3v14h-3zM840 345h3v33h-3zM852 334h3v3h-3zM864 302h3v13h-3zM869 315h3v24h-3zM873 339h3v18h-3zM877 357h3v18h-3zM885 365h3v2h-3zM889 367h3v23h-3zM893 390h3v1h-3zM901 389h3v15h-3zM905 404h3v21h-3zM910 425h3v15h-3zM918 390h3v4h-3zM922 394h3v9h-3zM926 403h3v17h-3zM942 381h3v16h-3zM946 397h3v14h-3zM959 364h3v20h-3zM971 379h3v7h-3zM987 302h3v11h-3zM1008 221h3v22h-3zM1016 234h3v30h-3zM1037 233h3v39h-3zM1057 192h3v56h-3zM1061 248h3v12h-3zM1065 260h3v7h-3zM1069 267h3v20h-3zM1074 287h3v20h-3zM1078 307h3v16h-3zM1090 289h3v24h-3zM1110 249h3v3h-3zM1115 252h3v29h-3zM1127 234h3v33h-3zM1131 267h3v7h-3zM1139 265h3v4h-3zM1143 269h3v8h-3zM1147 277h3v35h-3zM1155 293h3v19h-3zM1164 266h3v3h-3zM1168 269h3v10h-3zM1172 279h3v44h-3zM1180 307h3v3h-3zM1188 303h3v24h-3z" fill="#ef5350"/>
</g>
<g clip-path="url(#cpr)">
<polyline points="10.0,625.1 14.7,616.8 19.7,607.6 24.7,599.2 29.7,595.1 35.5,593.0 41.4,591.2 46.4,593.4 53.1,600.9 59.8,605.9 66.5,611.2 70.5,615.4 74.5,620.0 79.5,624.6 83.5,629.2 87.5,632.2 91.5,633.6 95.5,633.3 99.5,632.5 103.5,630.5 107.5,628.5 111.5,628.0 115.5,629.7 120.5,628.3 124.5,626.5 128.5,624.4 132.5,624.0 136.5,622.8 140.5,621.5 144.5,621.8 148.5,623.4 152.5,628.1 156.5,631.1 161.5,635.0 165.5,638.8 169.5,638.4 173.5,637.8 177.5,640.0 181.5,644.1 185.5,648.9 189.5,651.5 193.5,655.4 197.5,658.2 202.5,661.2 206.5,662.1 210.5,661.6 214.5,660.6 218.5,658.0 222.5,655.6 226.5,655.1 230.5,655.4 234.5,655.0 238.5,654.0 242.5,651.5 247.5,650.2 251.5,649.3 255.5,648.7 259.5,648.6 263.5,648.2 267.5,648.5 271.5,650.4 275.5,652.6 279.5,656.5 283.5,660.0 288.5,661.1 292.5,663.4 296.5,665.5 300.5,669.2 304.5,672.5 308.5,675.6 312.5,678.3 316.5,681.3 320.5,685.0 324.5,686.3 329.5,688.1 333.5,691.7 337.5,694.4 341.5,695.3 345.5,697.3 349.5,699.4 353.5,701.3 357.5,703.2 361.5,704.6 365.5,705.4 370.5,705.5 374.5,704.1 378.5,701.8 382.5,702.0 386.5,701.6 390.5,700.6 394.5,699.1 398.5,699.2 402.5,699.6 406.5,698.5 411.5,695.8 415.5,693.5 419.5,690.7 423.5,687.9 427.5,688.3 431.5,688.6 435.5,690.3 439.5,691.8 443.5,693.5 447.5,694.6 452.5,693.3 456.5,693.7 460.5,693.9 464.5,694.5 468.5,695.6 472.5,696.6 476.5,698.7 480.5,701.2 484.5,702.2 488.5,703.1 493.5,703.4 497.5,703.8 501.5,703.6 505.5,703.1 509.5,705.1 513.5,704.2 517.5,703.4 521.5,702.0 525.5,701.7 529.5,701.3 533.5,700.5 538.5,698.9 542.5,696.0 546.5,693.5 550.5,690.4 554.5,686.0 558.5,684.2 562.5,683.5 566.5,682.1 570.5,682.1 574.5,680.7 579.5,680.9 583.5,680.8 587.5,680.3 591.5,680.2 595.5,681.7 599.5,683.1 603.5,685.3 607.5,686.5 611.5,689.2 615.5,689.7 620.5,688.2 624.5,687.7 628.5,686.9 632.5,687.7 636.5,688.1 640.5,687.8 644.5,687.5 648.5,686.6 652.5,684.6 656.5,682.6 661.5,677.4 665.5,672.9 669.5,666.8 673.5,660.7 677.5,655.6 681.5,649.7 685.5,643.9 689.5,637.4 693.5,631.1 697.5,625.2 702.5,620.4 706.5,616.8 710.5,613.4 714.5,610.1 718.5,610.2 722.5,611.7 726.5,611.6 730.5,612.6 734.5,613.1 738.5,614.5 743.5,616.1 747.5,617.3 751.5,619.3 755.5,622.0 759.5,624.0 763.5,625.0 767.5,624.7 771.5,626.0 775.5,626.6 779.5,626.5 783.5,629.6 788.5,634.3 792.5,639.1 796.5,643.3 800.5,647.8 804.5,651.4 808.5,654.3 812.5,657.2 816.5,661.5 820.5,665.4 824.5,669.4 829.5,672.5 833.5,676.1 837.5,680.8 841.5,686.2 845.5,687.2 849.5,688.3 853.5,689.3 857.5,688.2 861.5,688.1 865.5,688.1 870.5,688.7 874.5,688.1 878.5,688.7 882.5,689.4 886.5,690.1 890.5,691.4 894.5,692.0 898.5,691.3 902.5,693.4 906.5,696.5 911.5,699.9 915.5,701.5 919.5,703.6 923.5,705.5 927.5,706.9 931.5,706.6 935.5,705.2 939.5,703.6 943.5,702.7 947.5,701.6 952.5,698.8 956.5,695.4 960.5,692.3 964.5,688.4 968.5,683.9 972.5,682.9 976.5,681.6 980.5,678.5 984.5,672.7 988.5,668.5 993.5,664.9 997.5,661.6 1001.5,656.0 1005.5,649.2 1009.5,645.3 1013.5,641.8 1017.5,639.0 1021.5,636.2 1025.5,633.2 1029.5,629.6 1034.5,626.0 1038.5,625.8 1042.5,627.8 1046.5,628.0 1050.5,627.3 1054.5,626.4 1058.5,629.7 1062.5,634.1 1066.5,637.5 1070.5,641.9 1075.5,645.5 1079.5,649.8 1083.5,653.6 1087.5,656.9 1091.5,661.4 1095.5,663.2 1099.5,663.5 1103.5,664.7 1107.5,666.5 1111.5,669.1 1116.5,670.3 1120.5,669.9 1124.5,668.6 1128.5,668.0 1132.5,666.9 1136.5,665.0 1140.5,663.8 1144.5,663.9 1148.5,664.4 1152.5,664.5 1156.5,666.9 1161.5,667.5 1165.5,668.6 1169.5,669.9 1173.5,671.4 1177.5,673.5 1181.5,676.2 1185.5,677.2 1189.5,678.8" fill="none" stroke="#fdd835" stroke-width="1.2" stroke-linejoin="round" stroke-linecap="round"/>
<polyline points="10.5,585.9 13.5,578.0 17.5,574.1 21.5,573.5 25.5,585.4 29.5,584.4 33.5,610.5 38.5,605.6 42.5,613.7 46.5,628.8 50.5,633.1 54.5,654.6 58.5,634.0 62.5,641.3 66.5,639.7 70.5,637.3 74.5,638.4 79.5,637.9 83.5,649.6 87.5,626.3 91.5,629.8 95.5,601.2 99.5,603.0 103.5,600.7 107.5,605.5 111.5,646.9 115.5,657.7 120.5,622.7 124.5,613.6 128.5,608.7 132.5,632.8 136.5,620.2 140.5,632.0 144.5,631.1 148.5,651.6 152.5,667.2 156.5,644.1 161.5,656.4 165.5,658.4 169.5,641.5 173.5,648.4 177.5,654.6 181.5,670.7 185.5,675.8 189.5,668.6 193.5,675.5 197.5,670.3 202.5,673.5 206.5,664.1 210.5,660.1 214.5,630.9 218.5,620.2 222.5,623.7 226.5,634.5 230.5,653.5 234.5,648.1 238.5,657.2 242.5,640.4 247.5,650.1 251.5,663.5 255.5,662.4 259.5,671.6 263.5,658.5 267.5,663.7 271.5,658.9 275.5,650.2 279.5,678.9 283.5,682.9 288.5,669.6 292.5,679.2 296.5,687.7 300.5,692.1 304.5,695.6 308.5,707.5 312.5,700.1 316.5,713.8 320.5,709.7 324.5,682.2 329.5,684.3 333.5,700.4 337.5,716.2 341.5,695.8 345.5,698.0 349.5,708.0 353.5,714.8 357.5,719.0 361.5,715.0 365.5,717.6 370.5,701.8 374.5,694.3 378.5,678.0 382.5,684.5 386.5,679.0 390.5,687.0 394.5,694.2 398.5,696.9 402.5,704.5 406.5,692.6 411.5,676.6 415.5,686.7 419.5,675.9 423.5,679.4 427.5,707.0 431.5,697.8 435.5,701.5 439.5,706.2 443.5,702.3 447.5,703.3 452.5,674.9 456.5,703.6 460.5,707.4 464.5,699.7 468.5,693.0 472.5,700.5 476.5,705.2 480.5,714.0 484.5,721.8 488.5,710.4 493.5,705.9 497.5,711.7 501.5,698.6 505.5,696.3 509.5,703.1 513.5,690.8 517.5,696.4 521.5,680.9 525.5,688.7 529.5,694.9 533.5,693.6 538.5,691.3 542.5,681.2 546.5,676.1 550.5,662.0 554.5,649.4 558.5,673.7 562.5,687.3 566.5,683.3 570.5,689.9 574.5,676.9 579.5,684.5 583.5,687.6 587.5,687.7 591.5,691.3 595.5,712.1 599.5,701.0 603.5,707.2 607.5,679.1 611.5,687.1 615.5,680.2 620.5,666.9 624.5,676.4 628.5,679.1 632.5,687.5 636.5,690.0 640.5,683.4 644.5,684.0 648.5,679.0 652.5,683.7 656.5,673.1 661.5,633.8 665.5,616.8 669.5,601.1 673.5,595.1 677.5,595.0 681.5,593.9 685.5,597.8 689.5,597.2 693.5,602.1 697.5,599.8 702.5,616.8 706.5,628.9 710.5,636.7 714.5,625.9 718.5,635.8 722.5,638.2 726.5,599.4 730.5,609.0 734.5,602.0 738.5,613.5 743.5,619.7 747.5,614.2 751.5,630.9 755.5,637.5 759.5,644.6 763.5,642.4 767.5,632.8 771.5,644.7 775.5,643.1 779.5,637.7 783.5,642.9 788.5,674.0 792.5,669.8 796.5,672.2 800.5,682.7 804.5,664.1 808.5,671.7 812.5,678.7 816.5,704.5 820.5,697.3 824.5,687.8 829.5,689.3 833.5,693.5 837.5,702.3 841.5,718.6 845.5,689.0 849.5,684.8 853.5,686.6 857.5,666.5 861.5,662.9 865.5,671.8 870.5,686.8 874.5,696.8 878.5,705.6 882.5,697.6 886.5,699.0 890.5,710.8 894.5,711.1 898.5,709.4 902.5,717.9 906.5,727.7 911.5,734.1 915.5,690.2 919.5,692.3 923.5,697.5 927.5,706.5 931.5,693.2 935.5,685.4 939.5,676.0 943.5,686.1 947.5,694.6 952.5,672.1 956.5,661.8 960.5,674.9 964.5,672.5 968.5,671.1 972.5,676.6 976.5,673.6 980.5,655.1 984.5,625.6 988.5,634.1 993.5,635.1 997.5,629.2 1001.5,607.8 1005.5,599.2 1009.5,617.0 1013.5,613.8 1017.5,635.9 1021.5,632.7 1025.5,629.8 1029.5,625.9 1034.5,622.7 1038.5,652.9 1042.5,652.5 1046.5,637.6 1050.5,625.4 1054.5,617.1 1058.5,654.0 1062.5,660.6 1066.5,664.8 1070.5,675.3 1075.5,685.2 1079.5,692.9 1083.5,683.7 1087.5,672.6 1091.5,684.8 1095.5,677.9 1099.5,657.4 1103.5,654.4 1107.5,650.8 1111.5,652.8 1116.5,671.3 1120.5,654.8 1124.5,646.8 1128.5,666.8 1132.5,670.2 1136.5,665.4 1140.5,667.7 1144.5,673.1 1148.5,692.2 1152.5,679.9 1156.5,690.2 1161.5,663.5 1165.5,665.3 1169.5,671.0 1173.5,693.1 1177.5,683.8 1181.5,685.0 1185.5,680.0 1189.5,693.1" fill="none" stroke="#7e57c2" stroke-width="3" stroke-linejoin="round" stroke-linecap="round"/>
</g>
<defs><clipPath id="cpm"><rect x="11" y="28" width="1291" height="536"/></clipPath><clipPath id="cpr"><rect x="11" y="565" width="1291" height="180"/></clipPath></defs>
<path d="M10 326.5H1249" stroke="#ef5350" stroke-width="1" stroke-dasharray="1 2" fill="none" shape-rendering="crispEdges"/>
<path d="M11 564.5H1367M11 745.5H1367" stroke="#e0e3eb" stroke-width="1" fill="none" shape-rendering="crispEdges"/>
<path d="M1302.5 28V772" stroke="#e0e3eb" stroke-width="1" fill="none" shape-rendering="crispEdges"/>
<rect x="10" y="27" width="1358" height="746" fill="none" stroke="#f3f4f6" stroke-width="2"/>
<rect x="10" y="320" width="1" height="8" fill="#26a69a" fill-opacity="0.35"/>
<g transform="translate(1189.6,551.4)"><circle r="9.75" fill="none" stroke="#9c27b0" stroke-width="1.3"/><path d="M3.1 -5.3L-4.2 0.3L-0.5 0.6L-3.3 5.5L3.9 -0.2L0.4 -0.5Z" fill="#9c27b0"/></g>
</svg>
<div class="t" style="left:10.25px;top:8.59px;font-size:12px;color:#131722;font-weight:normal;letter-spacing:0.000px;transform-origin:0 0;transform:scaleX(0.9490);">ranadagger</div>
<div class="t" style="left:73.75px;top:8.59px;font-size:12px;color:#131722;font-weight:normal;letter-spacing:0.000px;transform-origin:0 0;transform:scaleX(1.0157);">created</div>
<div class="t" style="left:119.46px;top:8.59px;font-size:12px;color:#131722;font-weight:normal;letter-spacing:0.000px;transform-origin:0 0;transform:scaleX(1.0668);">with</div>
<div class="t" style="left:147.50px;top:8.59px;font-size:12px;color:#131722;font-weight:normal;letter-spacing:0.000px;transform-origin:0 0;transform:scaleX(0.9764);">TradingView.com,</div>
<div class="t" style="left:245.00px;top:8.59px;font-size:12px;color:#131722;font-weight:normal;letter-spacing:0.000px;transform-origin:0 0;transform:scaleX(0.9082);">Aug</div>
<div class="t" style="left:268.50px;top:8.59px;font-size:12px;color:#131722;font-weight:normal;letter-spacing:0.000px;transform-origin:0 0;transform:scaleX(0.9143);">29,</div>
<div class="t" style="left:289.40px;top:8.59px;font-size:12px;color:#131722;font-weight:normal;letter-spacing:0.000px;transform-origin:0 0;transform:scaleX(0.8876);">2025</div>
<div class="t" style="left:318.75px;top:8.59px;font-size:12px;color:#131722;font-weight:normal;letter-spacing:0.000px;transform-origin:0 0;transform:scaleX(0.9265);">15:54</div>
<div class="t" style="left:350.90px;top:8.59px;font-size:12px;color:#131722;font-weight:normal;letter-spacing:0.000px;transform-origin:0 0;transform:scaleX(0.8658);">UTC</div>
<div class="t" style="left:18.10px;top:35.84px;font-size:12px;color:#131722;font-weight:normal;letter-spacing:0.000px;transform-origin:0 0;transform:scaleX(0.7958);">SUI</div>
<div class="t" style="left:49.75px;top:35.84px;font-size:12px;color:#131722;font-weight:normal;letter-spacing:0.000px;transform-origin:0 0;transform:scaleX(0.9293);">TetherUS</div>
<div class="t" style="left:109.00px;top:35.84px;font-size:12px;color:#131722;font-weight:normal;letter-spacing:0.000px;transform-origin:0 0;transform:scaleX(0.8138);">1D</div>
<div class="t" style="left:134.00px;top:35.84px;font-size:12px;color:#131722;font-weight:normal;letter-spacing:0.000px;transform-origin:0 0;transform:scaleX(0.8511);">BINANCE</div>
<div class="t" style="left:100.75px;top:35.84px;font-size:12px;color:#131722;font-weight:normal;letter-spacing:0.000px;">·</div>
<div class="t" style="left:125.50px;top:35.84px;font-size:12px;color:#131722;font-weight:normal;letter-spacing:0.000px;">·</div>
<div class="t" style="left:40.93px;top:35.84px;font-size:12px;color:#131722;font-weight:normal;letter-spacing:0.000px;">/</div>
<div class="t" style="left:186.90px;top:35.84px;font-size:12px;color:#131722;font-weight:normal;letter-spacing:0.000px;">O</div>
<div class="t" style="left:195.60px;top:35.84px;font-size:12px;color:#ef5350;font-weight:normal;letter-spacing:0.000px;transform-origin:0 0;transform:scaleX(0.9532);">3.4913</div>
<div class="t" style="left:238.40px;top:35.84px;font-size:12px;color:#131722;font-weight:normal;letter-spacing:0.000px;">H</div>
<div class="t" style="left:246.50px;top:35.84px;font-size:12px;color:#ef5350;font-weight:normal;letter-spacing:0.000px;transform-origin:0 0;transform:scaleX(0.9641);">3.4994</div>
<div class="t" style="left:289.60px;top:35.84px;font-size:12px;color:#131722;font-weight:normal;letter-spacing:0.000px;">L</div>
<div class="t" style="left:295.60px;top:35.84px;font-size:12px;color:#ef5350;font-weight:normal;letter-spacing:0.000px;transform-origin:0 0;transform:scaleX(0.9532);">3.2767</div>
<div class="t" style="left:337.90px;top:35.84px;font-size:12px;color:#131722;font-weight:normal;letter-spacing:-0.500px;">C</div>
<div class="t" style="left:345.60px;top:35.84px;font-size:12px;color:#ef5350;font-weight:normal;letter-spacing:0.000px;transform-origin:0 0;transform:scaleX(0.9709);">3.3070</div>
<div class="t" style="left:389.10px;top:35.84px;font-size:12px;color:#ef5350;font-weight:normal;letter-spacing:0.000px;transform-origin:0 0;transform:scaleX(0.9488);">−0.1844</div>
<div class="t" style="left:435.60px;top:35.84px;font-size:12px;color:#ef5350;font-weight:normal;letter-spacing:0.000px;transform-origin:0 0;transform:scaleX(0.9007);">(−5.28%)</div>
<div class="t" style="left:18.10px;top:52.74px;font-size:12px;color:#131722;font-weight:normal;letter-spacing:0.000px;transform-origin:0 0;transform:scaleX(0.9667);">EMA (20, close)</div>
<div class="t" style="left:107.75px;top:52.74px;font-size:12px;color:#2962ff;font-weight:normal;letter-spacing:0.000px;transform-origin:0 0;transform:scaleX(0.9464);">3.5701</div>
<div class="t" style="left:18.10px;top:69.59px;font-size:12px;color:#131722;font-weight:normal;letter-spacing:0.000px;transform-origin:0 0;transform:scaleX(0.9596);">SMA (50, close)</div>
<div class="t" style="left:107.25px;top:69.59px;font-size:12px;color:#f23645;font-weight:normal;letter-spacing:0.000px;transform-origin:0 0;transform:scaleX(0.9841);">3.7110</div>
<div class="t" style="left:18.30px;top:573.14px;font-size:12px;color:#131722;font-weight:normal;letter-spacing:0.000px;transform-origin:0 0;transform:scaleX(0.9536);">RSI (14, close)</div>
<div class="t" style="left:102.20px;top:573.14px;font-size:12px;color:#7e57c2;font-weight:normal;letter-spacing:0.000px;transform-origin:0 0;transform:scaleX(0.9581);">41.98</div>
<div class="t" style="left:138.50px;top:573.14px;font-size:12px;color:#fdd835;font-weight:normal;letter-spacing:0.000px;transform-origin:0 0;transform:scaleX(0.9714);">46.95</div>
<div class="t" style="left:1311.50px;top:96.69px;font-size:12px;color:#131722;font-weight:normal;letter-spacing:0.000px;transform-origin:0 0;transform:scaleX(0.9559);">5.0000</div>
<div class="t" style="left:1311.50px;top:162.69px;font-size:12px;color:#131722;font-weight:normal;letter-spacing:0.000px;transform-origin:0 0;transform:scaleX(0.9559);">4.5000</div>
<div class="t" style="left:1311.50px;top:228.69px;font-size:12px;color:#131722;font-weight:normal;letter-spacing:0.000px;transform-origin:0 0;transform:scaleX(0.9559);">4.0000</div>
<div class="t" style="left:1311.50px;top:294.69px;font-size:12px;color:#131722;font-weight:normal;letter-spacing:0.000px;transform-origin:0 0;transform:scaleX(0.9559);">3.5000</div>
<div class="t" style="left:1311.50px;top:426.69px;font-size:12px;color:#131722;font-weight:normal;letter-spacing:0.000px;transform-origin:0 0;transform:scaleX(0.9559);">2.5000</div>
<div class="t" style="left:1311.50px;top:492.69px;font-size:12px;color:#131722;font-weight:normal;letter-spacing:0.000px;transform-origin:0 0;transform:scaleX(0.9559);">2.0000</div>
<div class="t" style="left:1311.40px;top:578.69px;font-size:12px;color:#131722;font-weight:normal;letter-spacing:0.000px;transform-origin:0 0;transform:scaleX(0.9764);">80.00</div>
<div class="t" style="left:1311.40px;top:635.69px;font-size:12px;color:#131722;font-weight:normal;letter-spacing:0.000px;transform-origin:0 0;transform:scaleX(0.9764);">60.00</div>
<div class="t" style="left:1311.40px;top:691.69px;font-size:12px;color:#131722;font-weight:normal;letter-spacing:0.000px;transform-origin:0 0;transform:scaleX(0.9764);">40.00</div>
<div class="t" style="left:68.70px;top:752.84px;font-size:12px;color:#131722;font-weight:normal;letter-spacing:0.000px;transform-origin:0 0;transform:scaleX(0.9082);">Dec</div>
<div class="t" style="left:192.65px;top:752.84px;font-size:12px;color:#131722;font-weight:bold;letter-spacing:0.000px;transform-origin:0 0;transform:scaleX(1.0300);">2025</div>
<div class="t" style="left:323.60px;top:752.84px;font-size:12px;color:#131722;font-weight:normal;letter-spacing:0.000px;transform-origin:0 0;transform:scaleX(0.9469);">Feb</div>
<div class="t" style="left:437.25px;top:752.84px;font-size:12px;color:#131722;font-weight:normal;letter-spacing:0.000px;transform-origin:0 0;transform:scaleX(0.9835);">Mar</div>
<div class="t" style="left:564.75px;top:752.84px;font-size:12px;color:#131722;font-weight:normal;letter-spacing:0.000px;transform-origin:0 0;transform:scaleX(1.0343);">Apr</div>
<div class="t" style="left:686.95px;top:752.84px;font-size:12px;color:#131722;font-weight:normal;letter-spacing:0.000px;transform-origin:0 0;transform:scaleX(0.9215);">May</div>
<div class="t" style="left:815.35px;top:752.84px;font-size:12px;color:#131722;font-weight:normal;letter-spacing:0.000px;transform-origin:0 0;transform:scaleX(0.9369);">Jun</div>
<div class="t" style="left:939.90px;top:752.84px;font-size:12px;color:#131722;font-weight:normal;letter-spacing:0.000px;transform-origin:0 0;transform:scaleX(0.9766);">Jul</div>
<div class="t" style="left:1065.90px;top:752.84px;font-size:12px;color:#131722;font-weight:normal;letter-spacing:0.000px;transform-origin:0 0;transform:scaleX(0.8895);">Aug</div>
<div class="t" style="left:1192.50px;top:752.84px;font-size:12px;color:#131722;font-weight:normal;letter-spacing:0.000px;transform-origin:0 0;transform:scaleX(0.9270);">Sep</div>
<div style="position:absolute;left:1306px;top:31px;width:57px;height:25px;border:1px solid #eceef2;border-radius:4px;box-sizing:content-box"></div>
<div class="t" style="left:1315.40px;top:38.59px;font-size:12px;color:#131722;font-weight:normal;letter-spacing:0.000px;transform-origin:0 0;transform:scaleX(0.8379);">USDT</div>
<div style="position:absolute;left:1303px;top:169px;width:49px;height:17px;background:#0000ff;border-radius:0 2px 2px 0"></div>
<div class="t" style="left:1311.25px;top:171.74px;font-size:12px;color:#fff;font-weight:normal;letter-spacing:0.000px;-webkit-text-stroke:0.25px #fff;transform-origin:0 0;transform:scaleX(0.9709);">4.4400</div>
<div style="position:absolute;left:1252px;top:265px;width:50px;height:17px;background:#f23645;border-radius:2px 0 0 2px"></div>
<div class="t" style="left:1256.70px;top:267.74px;font-size:12px;color:#fff;font-weight:normal;letter-spacing:0.000px;-webkit-text-stroke:0.25px #fff;transform-origin:0 0;transform:scaleX(0.8544);">SMA:MA</div>
<div style="position:absolute;left:1303px;top:265px;width:48.5px;height:17px;background:#f23645;border-radius:0 2px 2px 0"></div>
<div class="t" style="left:1311.00px;top:267.74px;font-size:12px;color:#fff;font-weight:normal;letter-spacing:0.000px;-webkit-text-stroke:0.25px #fff;transform-origin:0 0;transform:scaleX(0.9855);">3.7110</div>
<div style="position:absolute;left:1271px;top:283px;width:31px;height:17px;background:#2962ff;border-radius:2px 0 0 2px"></div>
<div class="t" style="left:1276.00px;top:285.74px;font-size:12px;color:#fff;font-weight:normal;letter-spacing:0.000px;-webkit-text-stroke:0.25px #fff;transform-origin:0 0;transform:scaleX(0.8141);">EMA</div>
<div style="position:absolute;left:1303px;top:283px;width:48.5px;height:17px;background:#2962ff;border-radius:0 2px 2px 0"></div>
<div class="t" style="left:1311.00px;top:285.74px;font-size:12px;color:#fff;font-weight:normal;letter-spacing:0.000px;-webkit-text-stroke:0.25px #fff;transform-origin:0 0;transform:scaleX(0.9613);">3.5701</div>
<div style="position:absolute;left:1249px;top:318px;width:53px;height:17px;background:#ef5350;border-radius:2px 0 0 2px"></div>
<div class="t" style="left:1253.30px;top:320.74px;font-size:12px;color:#fff;font-weight:normal;letter-spacing:0.000px;-webkit-text-stroke:0.25px #fff;transform-origin:0 0;transform:scaleX(0.8162);">SUIUSDT</div>
<div style="position:absolute;left:1303px;top:318px;width:59.5px;height:44.5px;background:#ef5350;border-radius:0 2px 2px 0"></div>
<div class="t" style="left:1311.00px;top:320.74px;font-size:12px;color:#fff;font-weight:normal;letter-spacing:0.000px;-webkit-text-stroke:0.25px #fff;transform-origin:0 0;transform:scaleX(0.9613);">3.3070</div>
<div class="t" style="left:1311.00px;top:334.74px;font-size:12px;color:#fff;font-weight:normal;letter-spacing:0.000px;-webkit-text-stroke:0.25px #fff;transform-origin:0 0;transform:scaleX(0.8821);">+0.09%</div>
<div class="t" style="left:1311.00px;top:348.44px;font-size:12px;color:rgba(255,255,255,0.8);font-weight:normal;letter-spacing:0.000px;transform-origin:0 0;transform:scaleX(0.9884);">08:05:59</div>
<div style="position:absolute;left:1303px;top:363px;width:49px;height:17px;background:#0000ff;border-radius:0 2px 2px 0"></div>
<div class="t" style="left:1311.25px;top:365.74px;font-size:12px;color:#fff;font-weight:normal;letter-spacing:0.000px;-webkit-text-stroke:0.25px #fff;transform-origin:0 0;transform:scaleX(0.9709);">3.2600</div>
<div style="position:absolute;left:1223px;top:668px;width:79px;height:17px;background:#fdd835;border-radius:2px 0 0 2px"></div>
<div class="t" style="left:1227.50px;top:671.24px;font-size:12px;color:#131722;font-weight:normal;letter-spacing:0.000px;transform-origin:0 0;transform:scaleX(0.9064);">RSI-based MA</div>
<div style="position:absolute;left:1303px;top:668px;width:43px;height:17px;background:#fdd835;border-radius:0 2px 2px 0"></div>
<div class="t" style="left:1311.40px;top:671.24px;font-size:12px;color:#131722;font-weight:normal;letter-spacing:0.000px;transform-origin:0 0;transform:scaleX(0.9764);">46.95</div>
<div style="position:absolute;left:1277px;top:685px;width:25px;height:17px;background:#7e57c2;border-radius:2px 0 0 2px"></div>
<div class="t" style="left:1282.25px;top:688.34px;font-size:12px;color:#fff;font-weight:normal;letter-spacing:0.000px;-webkit-text-stroke:0.25px #fff;transform-origin:0 0;transform:scaleX(0.7833);">RSI</div>
<div style="position:absolute;left:1303px;top:685px;width:43px;height:17px;background:#7e57c2;border-radius:0 2px 2px 0"></div>
<div class="t" style="left:1311.40px;top:688.34px;font-size:12px;color:#fff;font-weight:normal;letter-spacing:0.000px;-webkit-text-stroke:0.25px #fff;transform-origin:0 0;transform:scaleX(0.9764);">41.98</div>
<svg style="position:absolute;left:0;top:780px" width="60" height="50" viewBox="0 780 60 50"><path d="M12 795H23.75V809.9H18V800.75H12ZM35 795H41.9L36.06 809.9H29.25Z" fill="#131313"/><circle cx="29.06" cy="797.9" r="2.95" fill="#131313"/></svg>
<div class="t" style="left:49.06px;top:791.83px;font-size:21.7px;color:#131313;font-weight:bold;letter-spacing:0.000px;transform-origin:0 0;transform:scaleX(0.9463);">TradingView</div>
</body></html>
